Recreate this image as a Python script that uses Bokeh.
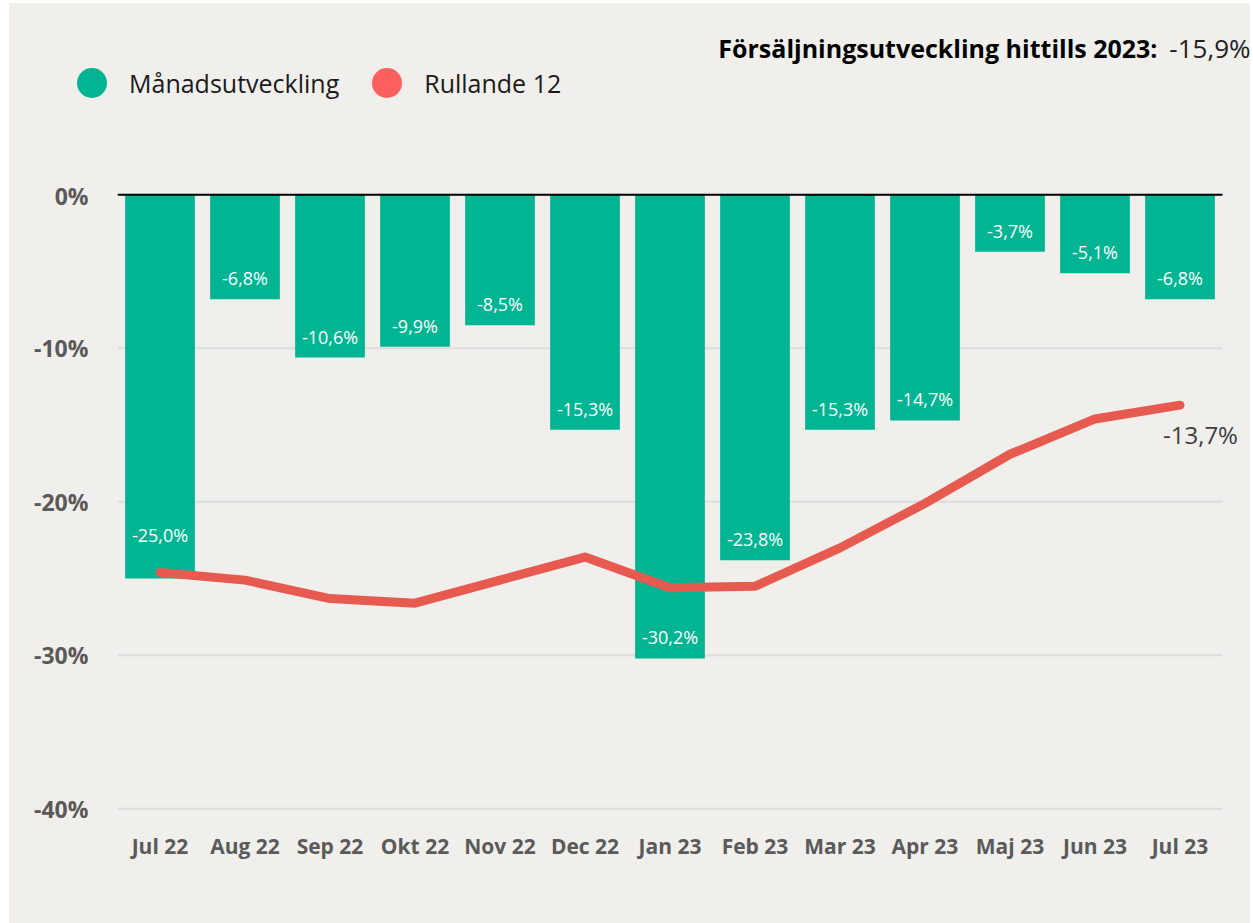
from bokeh.plotting import figure
from bokeh.models import (ColumnDataSource, Range1d, Label, Legend, LegendItem, FixedTicker)
from bokeh.core.properties import value
from bokeh.embed import file_html
from bokeh.resources import INLINE

# ---------------- data ----------------
months = ["Jul 22", "Aug 22", "Sep 22", "Okt 22", "Nov 22", "Dec 22", "Jan 23",
          "Feb 23", "Mar 23", "Apr 23", "Maj 23", "Jun 23", "Jul 23"]
monthly = [-25.0, -6.8, -10.6, -9.9, -8.5, -15.3, -30.2, -23.8, -15.3, -14.7, -3.7, -5.1, -6.8]
rolling12 = [-24.6, -25.1, -26.3, -26.6, -25.1, -23.6, -25.6, -25.5, -23.0, -20.1, -16.9, -14.6, -13.7]
y_ticks = [0, -10, -20, -30, -40]
y_tick_labels = ["0%", "-10%", "-20%", "-30%", "-40%"]
ytd_label = "Försäljningsutveckling hittills 2023:"
ytd_value = -15.9
series_names = ["Månadsutveckling", "Rullande 12"]


def fmt(v):
    return f"{v:.1f}%".replace(".", ",")


GREEN = "#01B593"
RED = "#E65A50"
RED_LEGEND = "#FD5F5E"
BG = "#F0EFEB"
FONT = "Open Sans"

n = len(months)
xpos = [i + 0.5 for i in range(n)]          # category centres on a numeric scale
# label offsets: move label up when the rolling line sits on the bar end
label_offsets = [-44 if abs(m - r) < 1.5 else -21 for m, r in zip(monthly, rolling12)]

src = ColumnDataSource(dict(
    x=xpos, month=months, monthly=monthly, rolling=rolling12,
    lab=[fmt(v) for v in monthly], yoff=label_offsets,
))

# ---------------- header (legend + YTD title) ----------------
HEAD_H = 176
head = figure(width=1241, height=HEAD_H, x_range=Range1d(0, 1), y_range=Range1d(0, 1),
              x_axis_type=None, y_axis_type=None, min_border=0,
              output_backend="svg", toolbar_location=None)
head.background_fill_alpha = 0
head.border_fill_alpha = 0
head.outline_line_color = None
head.grid.visible = False
head.styles = {"position": "absolute", "left": "9px", "top": "3px", "background-color": BG}

nan = float("nan")
lg_green = head.scatter(x=[nan], y=[nan], marker="circle", fill_color=GREEN, line_color=None)
lg_red = head.scatter(x=[nan], y=[nan], marker="circle", fill_color=RED_LEGEND, line_color=None)
legend = Legend(items=[LegendItem(label=series_names[0], renderers=[lg_green]),
                       LegendItem(label=series_names[1], renderers=[lg_red])],
                orientation="horizontal", location=(45, 59),
                glyph_width=75, glyph_height=75, label_standoff=0, spacing=10,
                padding=0, margin=0,
                background_fill_alpha=0, border_line_alpha=0,
                label_text_font=FONT, label_text_font_size="25px", label_text_color="#1A1A1A")
head.add_layout(legend, "center")

head.add_layout(Label(x=1148, y=132, x_units="screen", y_units="screen", text=ytd_label,
                      text_align="right", text_baseline="middle", text_font=FONT,
                      text_font_style="bold", text_font_size="25px", text_color="black"))
head.add_layout(Label(x=1241, y=132, x_units="screen", y_units="screen", text=fmt(ytd_value),
                      text_align="right", text_baseline="middle", text_font=FONT,
                      text_font_size="26px", text_color="#222222"))

# ---------------- main chart ----------------
FRAME_W = 1133
CAT_W = 85
p = figure(
    x_range=Range1d(0, FRAME_W / CAT_W), y_range=Range1d(-40.5, 1.0),
    frame_width=FRAME_W, frame_height=637,
    min_border_left=108, min_border_right=0, min_border_top=0, min_border_bottom=107,
    output_backend="svg", toolbar_location=None,
)
p.background_fill_alpha = 0
p.border_fill_alpha = 0
p.outline_line_color = None
p.grid.visible = False
p.styles = {"position": "absolute", "left": "9px", "top": f"{3 + HEAD_H}px",
            "background-color": BG}

grid_vals = [t for t in y_ticks if t != 0]
p.segment(x0=[0] * len(grid_vals), x1=[n] * len(grid_vals), y0=grid_vals, y1=grid_vals,
          line_color="#DCDCDC", line_width=2)

p.vbar(x="x", top=0, bottom="monthly", width=0.82, source=src,
       fill_color=GREEN, line_color=None)

p.segment(x0=[0], x1=[n], y0=[0], y1=[0], line_color="black", line_width=2)

p.text(x="x", y="monthly", text="lab", source=src, y_offset="yoff",
       text_align="center", text_baseline="middle", text_color="white",
       text_font=value(FONT), text_font_size="18px")

p.line(x="x", y="rolling", source=src, line_color=RED, line_width=9,
       line_cap="round", line_join="round")

# axes
p.yaxis.ticker = FixedTicker(ticks=y_ticks)
p.yaxis.major_label_overrides = {t: l for t, l in zip(y_ticks, y_tick_labels)}
p.yaxis.axis_line_color = None
p.yaxis.major_tick_line_color = None
p.yaxis.minor_tick_line_color = None
p.yaxis.major_tick_out = 0
p.yaxis.major_label_standoff = 29
p.yaxis.major_label_text_font = FONT
p.yaxis.major_label_text_font_style = "bold"
p.yaxis.major_label_text_font_size = "23px"
p.yaxis.major_label_text_color = "#5A5A5A"

p.xaxis.ticker = FixedTicker(ticks=xpos)
p.xaxis.major_label_overrides = {x: m for x, m in zip(xpos, months)}
p.xaxis.axis_line_color = None
p.xaxis.major_tick_line_color = None
p.xaxis.minor_tick_line_color = None
p.xaxis.major_tick_out = 0
p.xaxis.major_label_standoff = 15
p.xaxis.major_label_text_font = FONT
p.xaxis.major_label_text_font_style = "bold"
p.xaxis.major_label_text_font_size = "21px"
p.xaxis.major_label_text_color = "#5A5A5A"

# end label for rolling 12
p.add_layout(Label(x=xpos[-1], y=rolling12[-1], text=fmt(rolling12[-1]),
                   x_offset=-17, y_offset=-29, text_align="left", text_baseline="middle",
                   text_font=FONT, text_font_size="24px", text_color="#3D3D3D"))

open("out.html", "w").write(file_html([head, p], INLINE))
